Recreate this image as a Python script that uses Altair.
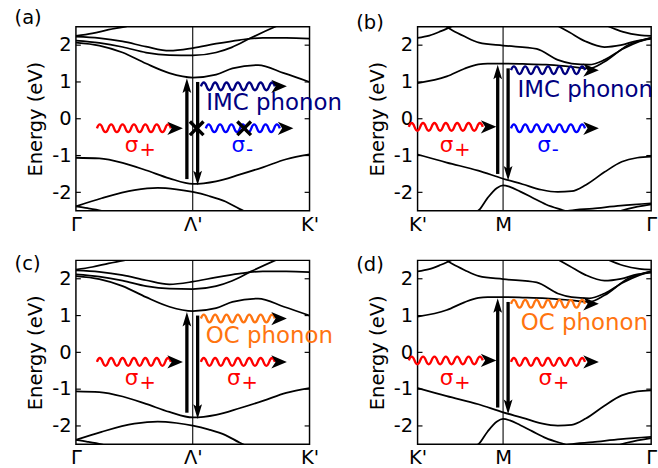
import altair as alt
import pandas as pd

FONT = "DejaVu Sans"

# ---------------- bands along Γ – Λ' – K' (panels a, c); k = fraction of the path ----------------
g_cb1_k = [0, 0.1, 0.2, 0.3, 0.4, 0.5, 0.6, 0.67, 0.78, 0.89, 1.0]
g_cb1_E = [2.07, 1.99, 1.8, 1.5, 1.24, 1.12, 1.2, 1.37, 1.46, 1.24, 1.0]
g_cb2_k = [0, 0.1, 0.2, 0.3, 0.4, 0.5, 0.6, 0.667, 0.75, 0.86, 0.92]
g_cb2_E = [2.12, 2.06, 1.95, 1.8, 1.73, 1.72, 1.8, 1.94, 2.2, 2.52, 2.68]
g_cb3_k = [0, 0.1, 0.2, 0.3, 0.4, 0.5, 0.6, 0.7, 0.8, 0.9, 1.0]
g_cb3_E = [2.23, 2.19, 2.1, 1.96, 1.85, 1.92, 2.04, 2.14, 2.2, 2.2, 2.18]
g_cb4_k = [0, 0.07, 0.14, 0.22, 0.28]
g_cb4_E = [2.25, 2.32, 2.42, 2.52, 2.62]
g_vb1_k = [0, 0.1, 0.2, 0.3, 0.4, 0.5, 0.6, 0.7, 0.8, 0.9, 1.0]
g_vb1_E = [-1.06, -1.08, -1.2, -1.4, -1.62, -1.77, -1.7, -1.52, -1.32, -1.1, -0.97]
g_vb2_k = [0, 0.11, 0.25, 0.35, 0.43, 0.5, 0.57, 0.64, 0.7, 0.75]
g_vb2_E = [-2.38, -2.16, -1.94, -1.88, -1.92, -1.99, -2.1, -2.25, -2.45, -2.6]
g_vb3_k = [0, 0.05, 0.11, 0.15]
g_vb3_E = [-2.38, -2.43, -2.5, -2.56]

# ---------------- bands along K' – M – Γ (panels b, d) ----------------
m_cb1_k = [0, 0.125, 0.2, 0.26, 0.3, 0.366, 0.45, 0.55, 0.65, 0.735, 0.8, 0.9, 1.0]
m_cb1_E = [0.97, 1.15, 1.36, 1.48, 1.5, 1.5, 1.49, 1.47, 1.42, 1.37, 1.55, 2.0, 2.2]
m_cb2_k = [0.11, 0.15, 0.2, 0.263, 0.366, 0.51, 0.6, 0.66, 0.735, 0.8, 0.88, 0.95, 1.0]
m_cb2_E = [2.56, 2.4, 2.24, 2.07, 1.99, 1.9, 1.6, 1.5, 1.47, 1.6, 1.9, 2.1, 2.2]
m_cb3_k = [0, 0.05, 0.1, 0.15, 0.2]
m_cb3_E = [2.2, 2.26, 2.38, 2.52, 2.65]
m_cb4_k = [0.59, 0.65, 0.72, 0.8, 0.87, 0.94, 1.0]
m_cb4_E = [2.56, 2.35, 2.1, 1.95, 2.0, 2.12, 2.17]
m_cb5_k = [0.8, 0.88, 0.95, 1.0]
m_cb5_E = [2.56, 2.36, 2.27, 2.25]
m_vb1_k = [0, 0.125, 0.26, 0.366, 0.45, 0.53, 0.6, 0.66, 0.72, 0.8, 0.874, 0.94, 1.0]
m_vb1_E = [-0.97, -1.19, -1.41, -1.63, -1.78, -1.93, -1.99, -1.97, -1.8, -1.45, -1.17, -1.06, -1.03]
m_vb2_k = [0.23, 0.263, 0.3, 0.34, 0.366, 0.395, 0.44, 0.49, 0.55, 0.62, 0.66]
m_vb2_E = [-2.6, -2.48, -2.15, -1.88, -1.81, -1.85, -1.98, -2.14, -2.33, -2.48, -2.56]
m_vb3_k = [0.6, 0.65, 0.75, 0.87, 1.0]
m_vb3_E = [-2.56, -2.5, -2.44, -2.36, -2.3]
m_vb4_k = [0.84, 0.9, 1.0]
m_vb4_E = [-2.56, -2.45, -2.33]

# ---------------- axes ----------------
g_ticks = [0, 0.5, 1]
g_labels = ["Γ", "Λ'", "K'"]
m_ticks = [0, 0.366, 1]
m_labels = ["K'", "M", "Γ"]
energy_ticks = [-2, -1, 0, 1, 2]

# ---------------- annotations ----------------
# wavy photons / phonons: start k, energy, colour; arrowheads: tip k, energy
a_wave_k = [0.09, 0.535, 0.556]
a_wave_E = [-0.26, 0.88, -0.26]
a_wave_c = ["#ff0000", "#000080", "#0000ff"]
a_head_k = [0.458, 0.903, 0.931]
a_head_E = [-0.26, 0.88, -0.26]
b_wave_k = [-0.0375, 0.4, 0.4]
b_wave_E = [-0.22, 1.32, -0.26]
b_wave_c = ["#ff0000", "#000080", "#0000ff"]
b_head_k = [0.3375, 0.776, 0.776]
b_head_E = [-0.22, 1.32, -0.26]
c_wave_k = [0.09, 0.535, 0.535]
c_wave_E = [-0.26, 0.92, -0.26]
c_wave_c = ["#ff0000", "#ff7410", "#ff0000"]
c_head_k = [0.458, 0.903, 0.903]
c_head_E = [-0.26, 0.92, -0.26]
d_wave_k = [-0.0375, 0.4, 0.4]
d_wave_E = [-0.22, 1.32, -0.26]
d_wave_c = ["#ff0000", "#ff7410", "#ff0000"]
d_head_k = [0.3375, 0.776, 0.776]
d_head_E = [-0.22, 1.32, -0.26]

# vertical transitions: k, start energy, tip energy
a_vert_k = [0.475, 0.521]
a_vert_from = [-1.64, 1.0]
a_vert_to = [1.10, -1.81]
b_vert_k = [0.343, 0.3875]
b_vert_from = [-1.5, 1.37]
b_vert_to = [1.47, -1.68]

# forbidden marks in (a)
a_cross_k = [0.517, 0.72]
a_cross_E = [-0.26, -0.26]

# σ labels: k of the σ/subscript junction, subscript, colour
a_sig_k = [0.2675, 0.724]
a_sig_sub = ["+", "-"]
a_sig_c = ["#ff0000", "#0000ff"]
b_sig_k = [0.153, 0.570]
b_sig_sub = ["+", "-"]
b_sig_c = ["#ff0000", "#0000ff"]
c_sig_k = [0.2675, 0.705]
c_sig_sub = ["+", "+"]
c_sig_c = ["#ff0000", "#ff0000"]
d_sig_k = [0.153, 0.576]
d_sig_sub = ["+", "+"]
d_sig_c = ["#ff0000", "#ff0000"]
sig_E = -0.9

# phonon labels: text, k, baseline energy, colour
a_phon = ("IMC phonon", 0.558, 0.25, "#000080")
b_phon = ("IMC phonon", 0.4275, 0.58, "#000080")
c_phon = ("OC phonon", 0.556, 0.26, "#ff7410")
d_phon = ("OC phonon", 0.442, 0.6, "#ff7410")

WAVE = ("M0,0 Q0.0769,-0.21 0.1538,0 T0.3077,0 T0.4615,0 T0.6154,0 T0.7692,0 T0.9231,0 "
        "T1.0769,0 T1.2308,0 T1.3846,0 T1.5385,0 T1.6923,0 T1.8462,0 T2,0")
HEAD = "M0,0 L-2,-0.85 L-1.45,0 L-2,0.85 Z"
VHEAD = "M0,0 L-2,-0.6 L-1.6,0 L-2,0.6 Z"
CROSS = "M-1,-1 L1,1 M-1,1 L1,-1"


def bands_frame(bands):
    rows = []
    for name, (ks, es) in bands.items():
        for k, e in zip(ks, es):
            rows.append({"band": name, "k": k, "E": e})
    return pd.DataFrame(rows)


g_bands = bands_frame({"cb1": (g_cb1_k, g_cb1_E), "cb2": (g_cb2_k, g_cb2_E),
                       "cb3": (g_cb3_k, g_cb3_E), "cb4": (g_cb4_k, g_cb4_E),
                       "vb1": (g_vb1_k, g_vb1_E), "vb2": (g_vb2_k, g_vb2_E),
                       "vb3": (g_vb3_k, g_vb3_E)})
m_bands = bands_frame({"cb1": (m_cb1_k, m_cb1_E), "cb2": (m_cb2_k, m_cb2_E),
                       "cb3": (m_cb3_k, m_cb3_E), "cb4": (m_cb4_k, m_cb4_E),
                       "cb5": (m_cb5_k, m_cb5_E),
                       "vb1": (m_vb1_k, m_vb1_E), "vb2": (m_vb2_k, m_vb2_E),
                       "vb3": (m_vb3_k, m_vb3_E), "vb4": (m_vb4_k, m_vb4_E)})


def label_expr(vals, labs):
    expr = "''"
    for v, l in zip(reversed(vals), reversed(labs)):
        l2 = l.replace("'", "\\'")
        expr = f"abs(datum.value - {v}) < 0.001 ? '{l2}' : ({expr})"
    return expr


def panel(title, title_dy, bands, sym_k, ticks, labels,
          wave_k, wave_E, wave_c, head_k, head_E,
          vert_k, vert_from, vert_to, sig_k, sig_sub, sig_c, phon,
          cross_k=None, cross_E=None):
    xs = alt.Scale(domain=[0, 1], nice=False, zero=False)
    ys = alt.Scale(domain=[-2.5, 2.5], nice=False, zero=False)
    X = alt.X("k:Q", scale=xs, title=None,
              axis=alt.Axis(values=ticks, labelExpr=label_expr(ticks, labels), ticks=False,
                            domain=False, grid=False, labelFontSize=20, labelFont=FONT,
                            labelColor="black", labelPadding=4, labelFlush=False,
                            labelOverlap=False))
    Y = alt.Y("E:Q", scale=ys, title="Energy (eV)",
              axis=alt.Axis(values=energy_ticks,
                            labelExpr="datum.value < 0 ? '-' + (-datum.value) : '' + datum.value",
                            ticks=False, domain=False, grid=False, labelFontSize=20,
                            labelFont=FONT, labelColor="black", labelPadding=5,
                            titleFontSize=20, titleFont=FONT, titleFontWeight="normal",
                            titleColor="black", titlePadding=6, labelFlush=False))

    layers = []
    # inward frame ticks
    tk = pd.DataFrame({"E": energy_ticks * 2,
                       "k": [0.0] * 5 + [0.979] * 5,
                       "k2": [0.021] * 5 + [1.0] * 5})
    layers.append(alt.Chart(tk).mark_rule(color="black", strokeWidth=1.2).encode(
        x=X, x2="k2:Q", y=Y))
    # high-symmetry line
    layers.append(alt.Chart(pd.DataFrame({"k": [sym_k]})).mark_rule(
        color="black", strokeWidth=1.1).encode(x=X))
    # bands
    layers.append(alt.Chart(bands).mark_line(
        color="black", strokeWidth=1.8, clip=True, interpolate="monotone").encode(
        x=X, y=Y, detail="band:N", order="k:Q"))
    # wavy lines
    wv = pd.DataFrame({"k": wave_k, "E": wave_E, "c": wave_c})
    layers.append(alt.Chart(wv).mark_point(
        shape=WAVE, size=5776, filled=False, strokeWidth=2.4, opacity=1).encode(
        x=X, y=Y, stroke=alt.Stroke("c:N", scale=None)))
    # horizontal arrowheads
    hd = pd.DataFrame({"k": head_k, "E": head_E})
    layers.append(alt.Chart(hd).mark_point(
        shape=HEAD, size=256, filled=True, color="black", opacity=1, strokeWidth=0).encode(
        x=X, y=Y))
    # vertical transitions
    vt = pd.DataFrame({"k": vert_k, "E": vert_from, "tip": vert_to})
    vt["E2"] = [t - (0.27 if t > f else -0.27) for f, t in zip(vert_from, vert_to)]
    vt["ang"] = [270 if t > f else 90 for f, t in zip(vert_from, vert_to)]
    layers.append(alt.Chart(vt).mark_rule(color="black", strokeWidth=3.4).encode(
        x=X, y=Y, y2="E2:Q"))
    layers.append(alt.Chart(vt).mark_point(
        shape=VHEAD, size=225, filled=True, color="black", opacity=1, strokeWidth=0).encode(
        x=X, y=alt.Y("tip:Q", scale=ys), angle=alt.Angle("ang:Q", scale=None)))
    if cross_k:
        cr = pd.DataFrame({"k": cross_k, "E": cross_E})
        layers.append(alt.Chart(cr).mark_point(
            shape=CROSS, size=196, filled=False, color="black", strokeWidth=3.5,
            opacity=1).encode(x=X, y=Y))
    # σ labels
    sg = pd.DataFrame({"k": sig_k, "E": [sig_E] * len(sig_k), "sub": sig_sub, "c": sig_c,
                       "s": ["σ"] * len(sig_k)})
    layers.append(alt.Chart(sg).mark_text(
        font=FONT, fontSize=22, align="right", baseline="alphabetic").encode(
        x=X, y=Y, text="s:N", color=alt.Color("c:N", scale=None)))
    layers.append(alt.Chart(sg).mark_text(
        font=FONT, fontSize=20, align="left", baseline="alphabetic", dx=1, dy=4).encode(
        x=X, y=Y, text="sub:N", color=alt.Color("c:N", scale=None)))
    # phonon label
    ph = pd.DataFrame({"t": [phon[0]], "k": [phon[1]], "E": [phon[2]], "c": [phon[3]]})
    layers.append(alt.Chart(ph).mark_text(
        font=FONT, fontSize=23.5, align="left", baseline="alphabetic").encode(
        x=X, y=Y, text="t:N", color=alt.Color("c:N", scale=None)))

    return alt.layer(*layers).properties(
        width=240, height=189,
        title=alt.TitleParams(title, anchor="start", frame="group", dx=-63, dy=title_dy,
                              offset=0, baseline="alphabetic", fontSize=20, font=FONT,
                              fontWeight="normal", color="black"))


pa = panel("(a)", 18, g_bands, 0.5, g_ticks, g_labels,
           a_wave_k, a_wave_E, a_wave_c, a_head_k, a_head_E,
           a_vert_k, a_vert_from, a_vert_to, a_sig_k, a_sig_sub, a_sig_c, a_phon,
           a_cross_k, a_cross_E)
pb = panel("(b)", 22.5, m_bands, 0.366, m_ticks, m_labels,
           b_wave_k, b_wave_E, b_wave_c, b_head_k, b_head_E,
           b_vert_k, b_vert_from, b_vert_to, b_sig_k, b_sig_sub, b_sig_c, b_phon)
pc = panel("(c)", 30, g_bands, 0.5, g_ticks, g_labels,
           c_wave_k, c_wave_E, c_wave_c, c_head_k, c_head_E,
           a_vert_k, a_vert_from, a_vert_to, c_sig_k, c_sig_sub, c_sig_c, c_phon)
pd_ = panel("(d)", 31, m_bands, 0.366, m_ticks, m_labels,
            d_wave_k, d_wave_E, d_wave_c, d_head_k, d_head_E,
            b_vert_k, b_vert_from, b_vert_to, d_sig_k, d_sig_sub, d_sig_c, d_phon)

chart = alt.concat(pa, pb, pc, pd_, columns=2, spacing={"row": 51, "column": 111},
                   bounds="flush").properties(
    padding={"left": 14, "top": 1, "right": 0, "bottom": 0},
    background="white",
).configure_view(stroke="black", strokeWidth=1.5)

chart.save("out.html", embed_options={"renderer": "svg", "actions": False})
